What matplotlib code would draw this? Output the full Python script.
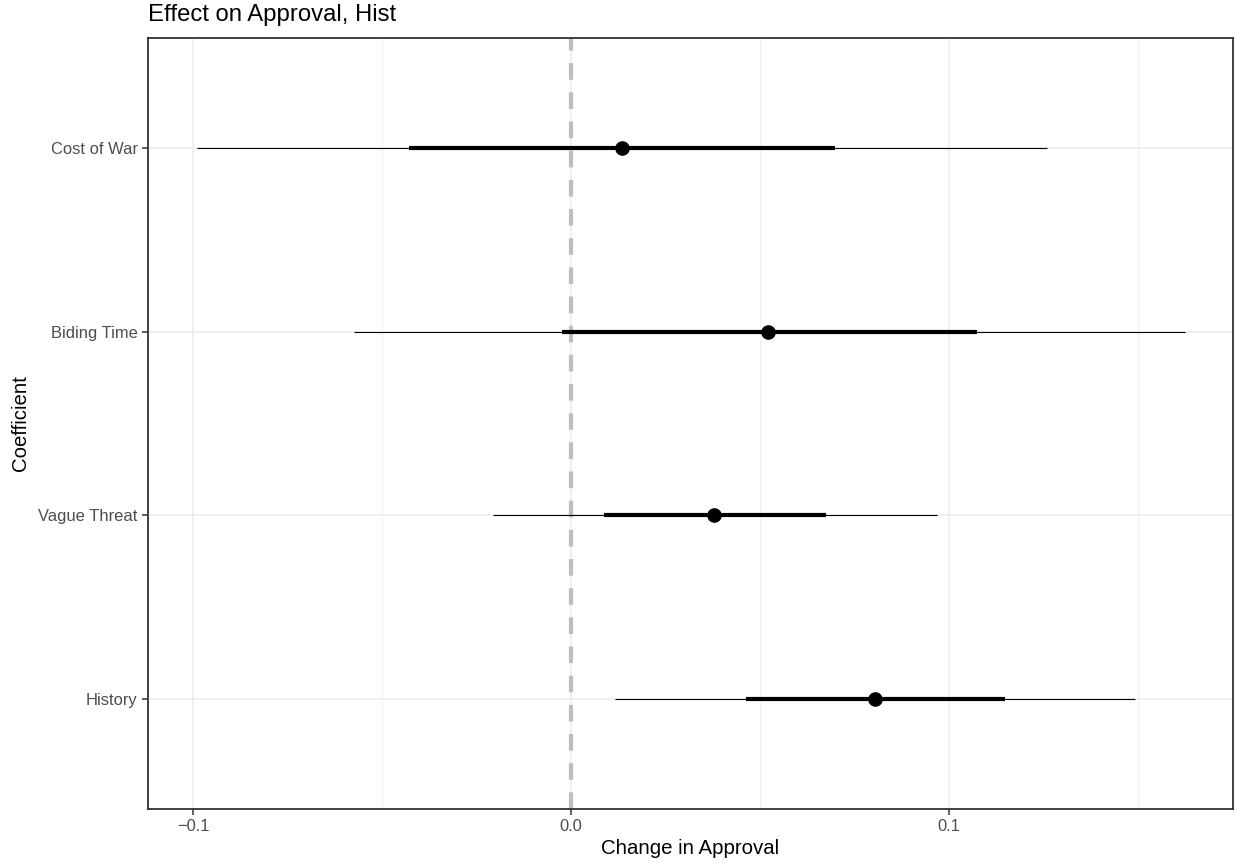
import matplotlib
matplotlib.use("Agg")
import matplotlib.pyplot as plt

categories = ["History", "Vague Threat", "Biding Time", "Cost of War"]
estimate = [0.0804, 0.0378, 0.0521, 0.0135]
outer_low = [0.0116, -0.0206, -0.0574, -0.0989]
outer_high = [0.1492, 0.0968, 0.1624, 0.1259]
inner_low = [0.0463, 0.0087, -0.0024, -0.0429]
inner_high = [0.1148, 0.0675, 0.1074, 0.0698]
x_ticks = [-0.1, 0.0, 0.1]
x_ticklabels = ["\u22120.1", "0.0", "0.1"]

plt.rcParams['font.family'] = ['Liberation Sans', 'DejaVu Sans']

fig = plt.figure(figsize=(12.36, 8.65), dpi=100)
W, H = 1236, 865
left, right, top, bottom = 148, 1233, 38, 809
ax = fig.add_axes([left / W, 1 - bottom / H, (right - left) / W, (bottom - top) / H])

ypos = list(range(1, len(categories) + 1))

# grid
for t in x_ticks:
    ax.axvline(t, color="#EBEBEB", lw=1.1, zorder=0)
for t in [-0.05, 0.05, 0.15]:
    ax.axvline(t, color="#EBEBEB", lw=0.55, zorder=0)
for y in ypos:
    ax.axhline(y, color="#EBEBEB", lw=1.1, zorder=0)

ax.axvline(0, color="#BEBEBE", lw=3, ls=(0, (4, 3)), zorder=1)

ax.hlines(ypos, outer_low, outer_high, color="black", lw=0.8, zorder=2)
ax.hlines(ypos, inner_low, inner_high, color="black", lw=3, zorder=3)
ax.plot(estimate, ypos, "o", color="black", ms=9.5, zorder=4)

ax.set_xlim(-0.1119, 0.1751)
ax.set_ylim(0.4, 4.6)
ax.set_xticks(x_ticks)
ax.set_xticklabels(x_ticklabels)
ax.set_yticks(ypos)
ax.set_yticklabels(categories)
ax.tick_params(axis="both", colors="#333333", labelcolor="#4D4D4D", labelsize=11.9,
               length=4, width=1.1)
for s in ax.spines.values():
    s.set_color("#333333")
    s.set_linewidth(1.3)

ax.set_xlabel("Change in Approval", fontsize=14.7, va="center")
ax.xaxis.set_label_coords(0.5, (bottom - 849) / (bottom - top))
ax.set_ylabel("Coefficient", fontsize=14.7, va="center")
ax.yaxis.set_label_coords((21 - left) / (right - left), 0.5)
fig.text(148 / W, 1 - 15 / H, "Effect on Approval, Hist", fontsize=17.2, ha="left", va="center")

fig.savefig("out.png", dpi=100)
